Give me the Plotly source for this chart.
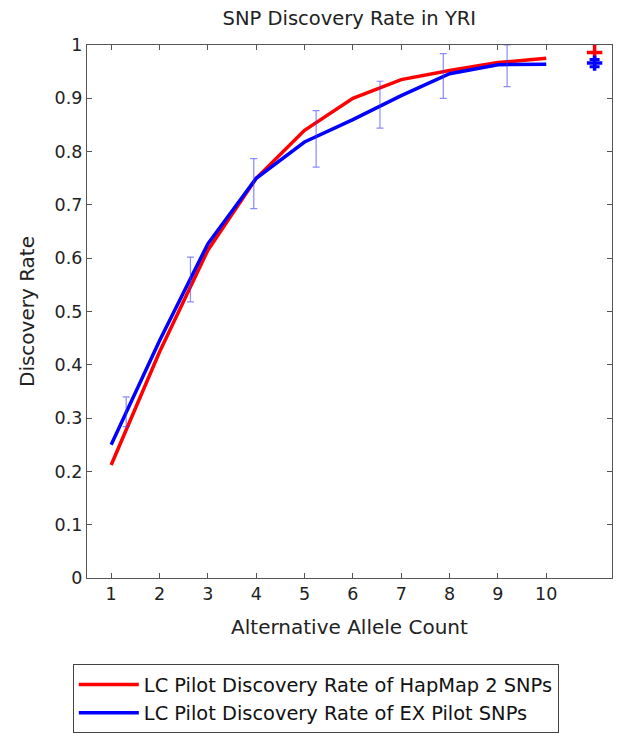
import plotly.graph_objects as go

# Data
allele_count = [1, 2, 3, 4, 5, 6, 7, 8, 9, 10]
hapmap_rate = [0.212, 0.424, 0.615, 0.750, 0.840, 0.900, 0.935, 0.952, 0.967, 0.975]
ex_pilot_rate = [0.250, 0.445, 0.627, 0.750, 0.818, 0.860, 0.905, 0.946, 0.963, 0.964]

err_x = [1.31, 2.64, 3.95, 5.24, 6.56, 7.87, 9.19]
err_center = [0.312, 0.560, 0.740, 0.824, 0.888, 0.942, 0.961]
err_half = [0.028, 0.042, 0.047, 0.053, 0.044, 0.042, 0.039]

overall_x = [11]
overall_hapmap = [0.986]
overall_ex = [0.966]
overall_ex_err = [0.007]

x_ticks = [1, 2, 3, 4, 5, 6, 7, 8, 9, 10]
y_ticks = [0, 0.1, 0.2, 0.3, 0.4, 0.5, 0.6, 0.7, 0.8, 0.9, 1.0]
y_tick_text = ["0", "0.1", "0.2", "0.3", "0.4", "0.5", "0.6", "0.7", "0.8", "0.9", "1"]

FONT = "DejaVu Sans, Liberation Sans, Arial, sans-serif"
TXT = "#222222"

fig = go.Figure()
fig.add_trace(go.Scatter(
    x=allele_count, y=hapmap_rate, mode="lines",
    line=dict(color="#ff0000", width=3.5),
    name="LC Pilot Discovery Rate of HapMap 2 SNPs"))
fig.add_trace(go.Scatter(
    x=allele_count, y=ex_pilot_rate, mode="lines",
    line=dict(color="#0000ff", width=3.5),
    name="LC Pilot Discovery Rate of EX Pilot SNPs"))
fig.add_trace(go.Scatter(
    x=err_x, y=err_center, mode="markers",
    marker=dict(size=0.1, color="rgba(0,0,255,0)"),
    error_y=dict(type="data", array=err_half, visible=True,
                 color="rgba(60,60,255,0.6)", thickness=1.2, width=3.5),
    showlegend=False, hoverinfo="skip"))
fig.add_trace(go.Scatter(
    x=overall_x, y=overall_hapmap, mode="markers",
    marker=dict(symbol="cross-thin", size=11, line=dict(color="#ff0000", width=3.5)),
    showlegend=False))
fig.add_trace(go.Scatter(
    x=overall_x, y=overall_ex, mode="markers",
    marker=dict(symbol="cross-thin", size=11, line=dict(color="#0000ff", width=3.5)),
    error_y=dict(type="data", array=overall_ex_err, visible=True,
                 color="#0000ff", thickness=3, width=5),
    showlegend=False))

axis_common = dict(
    showline=True, linecolor="#555555", linewidth=1.2, mirror="allticks",
    ticks="inside", ticklen=5, tickcolor="#555555", showgrid=False,
    zeroline=False, automargin=False,
    tickfont=dict(family=FONT, size=17.5, color=TXT),
)

fig.update_layout(
    width=621, height=741,
    margin=dict(l=87, r=9, t=45, b=162),
    plot_bgcolor="white", paper_bgcolor="white",
    font=dict(family=FONT, color=TXT),
    title=dict(text="SNP Discovery Rate in YRI", x=0.5625, xanchor="center",
               y=0.975, yanchor="middle",
               font=dict(family=FONT, size=19.5, color=TXT)),
    xaxis=dict(range=[0.5, 11.36], tickvals=x_ticks,
               title=dict(text="Alternative Allele Count", standoff=16,
                          font=dict(family=FONT, size=20, color=TXT)),
               **axis_common),
    yaxis=dict(range=[0, 1], tickvals=y_ticks, ticktext=y_tick_text,
               title=dict(text="Discovery Rate", standoff=14,
                          font=dict(family=FONT, size=20, color=TXT)),
               **axis_common),
    legend=dict(x=-0.027, y=-0.16, xanchor="left", yanchor="top",
                bordercolor="#444444", borderwidth=1, bgcolor="white",
                font=dict(family=FONT, size=19.4, color="#111111"),
                itemwidth=60, tracegroupgap=2),
    showlegend=True,
)

fig.write_html("out.html")
